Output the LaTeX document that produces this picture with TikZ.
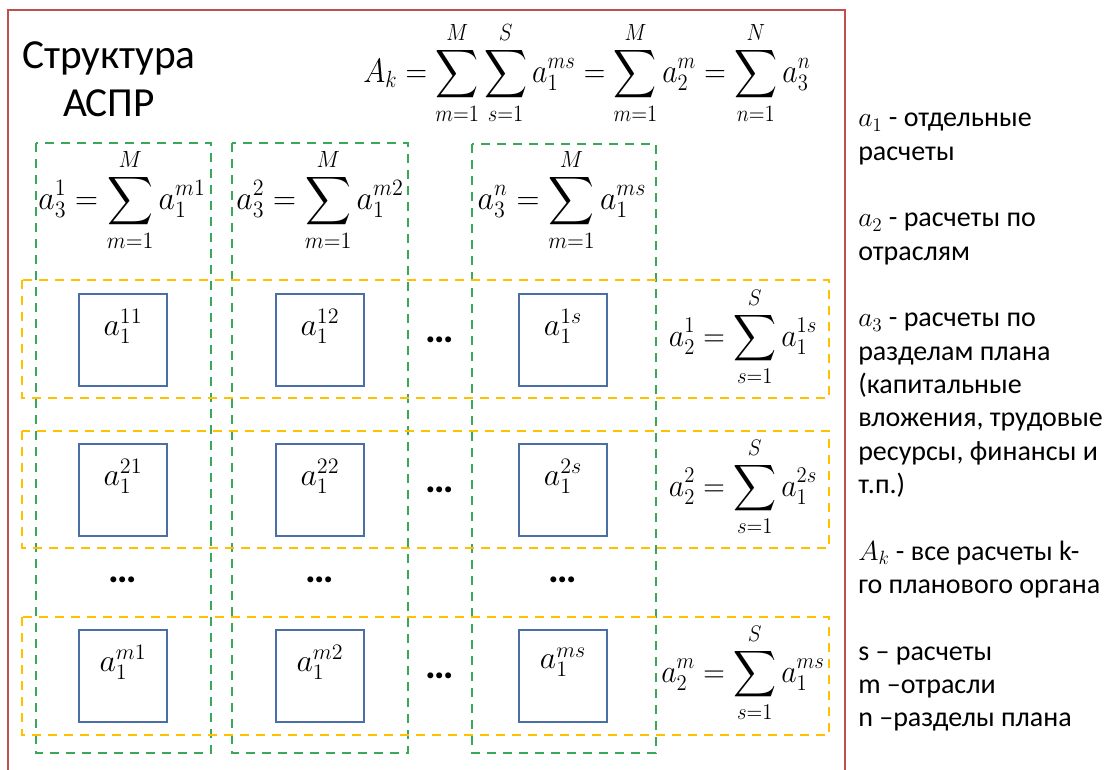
\documentclass[tikz,border=0pt]{standalone}
\usepackage{amsmath}
\usepackage{fontspec}
\setmainfont{Carlito}
\definecolor{redb}{HTML}{C0504D}
\definecolor{greenb}{HTML}{3AA856}
\definecolor{yellowb}{HTML}{FFC000}
\definecolor{blueb}{HTML}{4A6FA5}
\begin{document}
\begin{tikzpicture}[x=0.75pt,y=-0.75pt,
  frame/.style={draw=redb, line width=1.8pt},
  gcol/.style={draw=greenb, line width=1.9pt, dash pattern=on 7pt off 5pt},
  yrow/.style={draw=yellowb, line width=1.9pt, dash pattern=on 7pt off 5pt},
  cell/.style={draw=blueb, line width=1.6pt, minimum width=66pt, minimum height=69pt, inner sep=0pt},
  lab/.style={font=\fontsize{20.74}{26}\selectfont, inner sep=0pt, scale=1.15},
  frm/.style={font=\fontsize{20.74}{25}\selectfont, inner sep=0pt},
  colf/.style={frm, xscale=1.15, yscale=1.22},
  rowf/.style={frm, xscale=1.08, yscale=1.17},
  topf/.style={frm, xscale=1.08, yscale=1.22},
  dotsn/.style={font=\fontsize{30}{30}\selectfont\bfseries, inner sep=0pt},
  legend/.style={font=\fontsize{21}{25}\selectfont, align=left, anchor=north west, inner sep=0pt}]
\useasboundingbox (0,0) rectangle (1112,769);
\fill[white] (0,0) rectangle (1112,769);
% outer frame
\draw[frame] (8,10) rectangle (845,790);
% green columns
\draw[gcol] (36,143) rectangle (211,753);
\draw[gcol] (232,143) rectangle (408,753);
\draw[gcol] (472,144) rectangle (656,753);
% yellow rows
\draw[yrow] (22,280) rectangle (829,398);
\draw[yrow] (22,431) rectangle (829,548);
\draw[yrow] (22,617) rectangle (829,735);
% title
\node[font=\fontsize{31}{36}\selectfont, align=center, inner sep=0pt] (title) at (109,79) {Структура\\АСПР};
% main formula
\node[topf] (Ak) at (587,73) {$\displaystyle A_k=\sum_{m=1}^{M}\sum_{s=1}^{S}a_1^{ms}=\sum_{m=1}^{M}a_2^{m}=\sum_{n=1}^{N}a_3^{n}$};
% column formulas
\node[colf] (c1) at (122,200) {$\displaystyle a_3^1=\sum_{m=1}^{M}a_1^{m1}$};
\node[colf] (c2) at (320,200) {$\displaystyle a_3^2=\sum_{m=1}^{M}a_1^{m2}$};
\node[colf] (cn) at (562,200) {$\displaystyle a_3^n=\sum_{m=1}^{M}a_1^{ms}$};
% row formulas
\node[rowf] (r1) at (743,337) {$\displaystyle a_2^1=\sum_{s=1}^{S}a_1^{1s}$};
\node[rowf] (r2) at (743,487) {$\displaystyle a_2^2=\sum_{s=1}^{S}a_1^{2s}$};
\node[rowf] (rm) at (743,673) {$\displaystyle a_2^m=\sum_{s=1}^{S}a_1^{ms}$};
% cells
\foreach \nm/\cx/\cy/\tx in {b11/123/340/{11}, b12/320/340/{12}, b1s/563/340/{1s},
                             b21/123/490/{21}, b22/320/490/{22}, b2s/563/490/{2s},
                             bm1/123/676/{m1}, bm2/320/676/{m2}, bms/563/676/{ms}} {
  \node[cell] (\nm) at (\cx,\cy) {};
  \node[lab, anchor=center] (\nm t) at ([yshift=-25pt]\nm.north) {$a_1^{\tx}$};
}
% dots
\node[dotsn] (d1) at (440,340) {…};
\node[dotsn] (d2) at (440,490) {…};
\node[dotsn] (d3) at (440,676) {…};
\node[dotsn] (v1) at (123,580) {…};
\node[dotsn] (v2) at (320,580) {…};
\node[dotsn] (v3) at (563,580) {…};
% legend
\node[legend] (leg) at (858,113) {$a_1$ - отдельные\\ расчеты\\[25pt]
$a_2$ - расчеты по\\ отраслям\\[25pt]
$a_3$ - расчеты по\\ разделам плана\\ (капитальные\\ вложения, трудовые\\ ресурсы, финансы и\\ т.п.)\\[25pt]
$A_k$ - все расчеты k-\\ го планового органа\\[25pt]
s – расчеты\\ m –отрасли\\ n –разделы плана};
\end{tikzpicture}
\end{document}
